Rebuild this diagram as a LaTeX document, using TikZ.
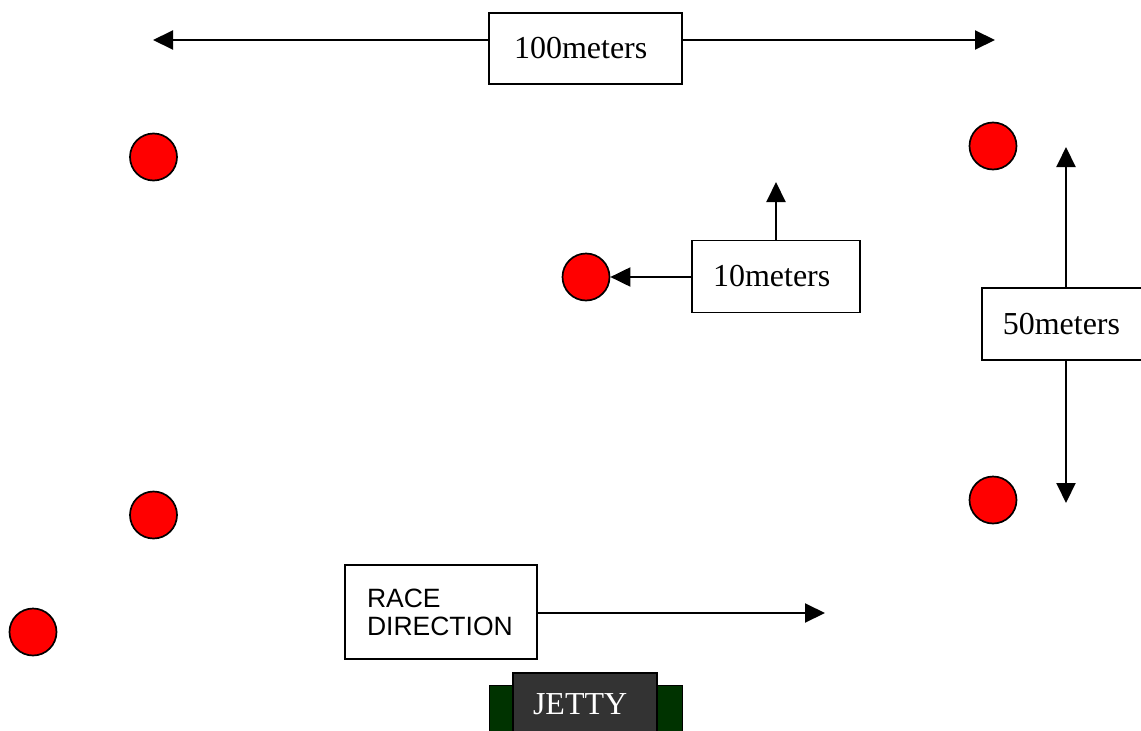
\documentclass[tikz,border=0pt]{standalone}
\usepackage{fontspec}
\setmainfont{Liberation Serif}
\newfontfamily\arialfont{Liberation Sans}
\usetikzlibrary{arrows.meta}
\definecolor{buoyred}{HTML}{FF0000}
\definecolor{jettygreen}{HTML}{003300}
\definecolor{jettygray}{HTML}{333333}
\tikzset{
  buoy/.style={circle, draw=black, line width=1.7pt, fill=buoyred, minimum size=47pt, inner sep=0pt},
  labelbox/.style={draw=black, line width=1.5pt, fill=white, align=left, inner ysep=0pt,
     font=\fontsize{32}{36}\selectfont},
  arr/.style={line width=2pt, -{Triangle[length=20pt,width=19pt]}},
}
\begin{document}
\begin{tikzpicture}[x=1pt,y=-1pt]
\useasboundingbox (0,0) rectangle (1141,731);
\clip (0,0) rectangle (1141,731);
% buoys
\node[buoy] (b1) at (153.5,157) {};
\node[buoy] (b2) at (153.5,515) {};
\node[buoy] (b3) at (33,632) {};
\node[buoy] (bm) at (586,277) {};
\node[buoy] (b4) at (993,146) {};
\node[buoy] (b5) at (993,500) {};
% 100 meters
\node[labelbox, inner xsep=25pt, text width=143pt, minimum height=71pt] (hund) at (585.5,48.5) {100meters};
\coordinate (hl) at (153,40);
\coordinate (hr) at (995,40);
\draw[arr] (hund.west |- hl) -- (hl);
\draw[arr] (hund.east |- hr) -- (hr);
% 10 meters
\node[labelbox, inner xsep=21pt, text width=126pt, minimum height=72pt] (ten) at (776,276.5) {10meters};
\coordinate (tu) at (776,182);
\draw[arr] (tu |- ten.north) -- (tu);
\draw[arr] (ten.west |- bm.east) -- (bm.east);
% 50 meters
\node[labelbox, inner xsep=21pt, text width=140pt, minimum height=72pt, anchor=west] (fifty) at (981,324) {50meters};
\coordinate (fu) at (1066,147);
\coordinate (fd) at (1066,503);
\draw[arr] (fu |- fifty.north) -- (fu);
\draw[arr] (fd |- fifty.south) -- (fd);
% race direction
\node[labelbox, inner xsep=22pt, text width=148pt, minimum height=94pt,
      font=\arialfont\fontsize{26.5}{28}\selectfont] (race) at (441,612) {RACE\\DIRECTION};
\coordinate (re) at (825,613);
\draw[arr] (race.east |- re) -- (re);
% jetty
\draw[line width=1pt, fill=jettygreen] (489,685) rectangle (682,740);
\node[draw=black, line width=1.5pt, fill=jettygray, inner xsep=20pt, text width=104pt, align=left,
      minimum height=62pt, text=white, font=\fontsize{32}{36}\selectfont] (jetty) at (585,704) {JETTY};
\end{tikzpicture}
\end{document}
